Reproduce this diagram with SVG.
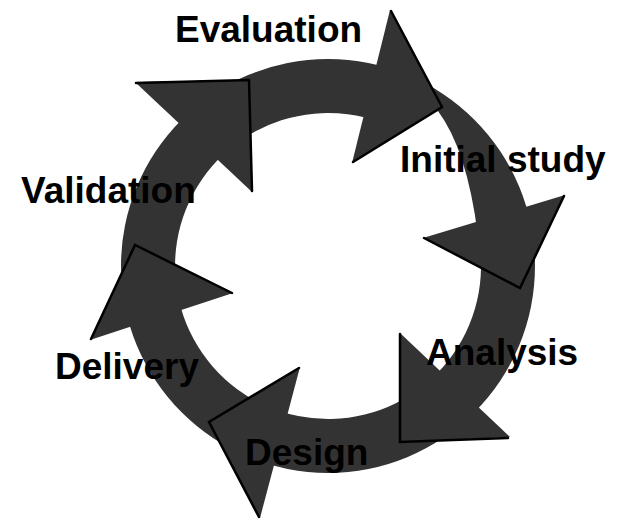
<svg xmlns="http://www.w3.org/2000/svg" width="619" height="520" viewBox="0 0 619 520">
<style>
.arrow{fill:#333333;stroke:none}
.edge{fill:none;stroke:#000000;stroke-width:2.5;stroke-linejoin:miter;stroke-linecap:round}
.label{font-family:"Liberation Sans",Arial,Helvetica,sans-serif;font-weight:bold;font-size:37px;fill:#000000}
</style>
<rect width="619" height="520" fill="#ffffff"/>
<g id="connectors">
<path class="arrow" fill-rule="evenodd" d="M121,266 A207,207 0 1 1 535,266 A207,207 0 1 1 121,266 Z M380.3,122.2 L438,111 Q467,150 477.7,234.2 A153,153 0 1 1 380.3,122.2 Z"/>
<polygon class="arrow" points="135,82 248,80 252,192"/>
<polygon class="arrow" points="390,10 442,107 352,163"/>
<polygon class="arrow" points="565,195 520,288 423,238"/>
<polygon class="arrow" points="400,333 400,442 510,437"/>
<polygon class="arrow" points="300,367 209,422 260,518"/>
<polygon class="arrow" points="233,293 135,245 90,340"/>
<polyline class="edge" points="136,83 249,80 252,191"/>
<polyline class="edge" points="391,11 442,107 353,162"/>
<polyline class="edge" points="564,196 520,288 424,238"/>
<polyline class="edge" points="400,334 400,442 508,438"/>
<polyline class="edge" points="299,368 209,422 259,517"/>
<polyline class="edge" points="232,293 135,245 91,339"/>
</g>
<g id="node-evaluation"><text class="label" x="175" y="42">Evaluation</text></g>
<g id="node-initial-study"><text class="label" x="400" y="172">Initial study</text></g>
<g id="node-analysis"><text class="label" x="426" y="365">Analysis</text></g>
<g id="node-design"><text class="label" x="245" y="465">Design</text></g>
<g id="node-delivery"><text class="label" x="55" y="379">Delivery</text></g>
<g id="node-validation"><text class="label" x="21" y="203">Validation</text></g>
</svg>
